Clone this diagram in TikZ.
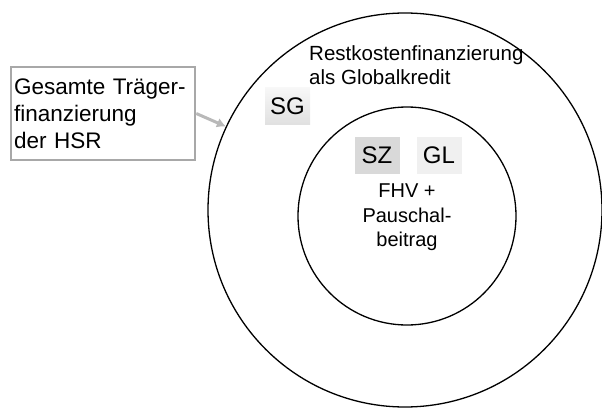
\documentclass[tikz,border=0pt]{standalone}
\usepackage{fontspec}
\setmainfont{Liberation Sans}
\usepackage{tikz}
\usetikzlibrary{arrows,arrows.meta,positioning,shapes}
\definecolor{boxgray}{RGB}{168,168,168}
\definecolor{arrgray}{RGB}{185,185,185}

\begin{document}
\begin{tikzpicture}[x=1pt,y=-1pt,% coordinates in pixels of the picture, y going down
		every node/.style={
			align=center,		% so that "\\" breaks the line
			inner sep=0pt
		},
		ring/.style={circle,draw=black,line width=1.3pt},
		tag/.style={rectangle,font=\fontsize{24}{28}\selectfont,minimum width=45pt,minimum height=37pt},
		every edge/.style={draw,line width=3pt,arrgray}
	]
	\useasboundingbox (0,0) rectangle (602,409);
	\node[ring,minimum size=394pt](C1) at (405,210) {};
	\node[ring,minimum size=218pt](C2) at (407,216) {};
	\node[rectangle,draw=boxgray,line width=2.5pt,fill=white,align=left,inner sep=3pt,text width=178pt,minimum height=93pt,font=\fontsize{22.5}{27}\selectfont](B1) at (103,113.5) {Gesamte Träger-\\finanzierung\\der HSR};
	\node[anchor=north west,align=left,font=\fontsize{20.5}{24}\selectfont](T1) at (309,45) {Restkostenfinanzierung\\als Globalkredit};
	\node[anchor=north,font=\fontsize{20}{24.5}\selectfont](T2) at (407,184) {FHV +\\Pauschal-\\beitrag};
	\node[tag,top color=gray!6,bottom color=gray!24](SG) at (287.5,106) {SG};
	\node[tag,fill=gray!30](SZ) at (377,155.5) {SZ};
	\node[tag,fill=gray!12](GL) at (439,155.5) {GL};
	\path[-{Latex[length=9pt,width=10pt]}]
	(B1.east) edge [] node [] {} (C1.155)
	;
\end{tikzpicture}
\end{document}
